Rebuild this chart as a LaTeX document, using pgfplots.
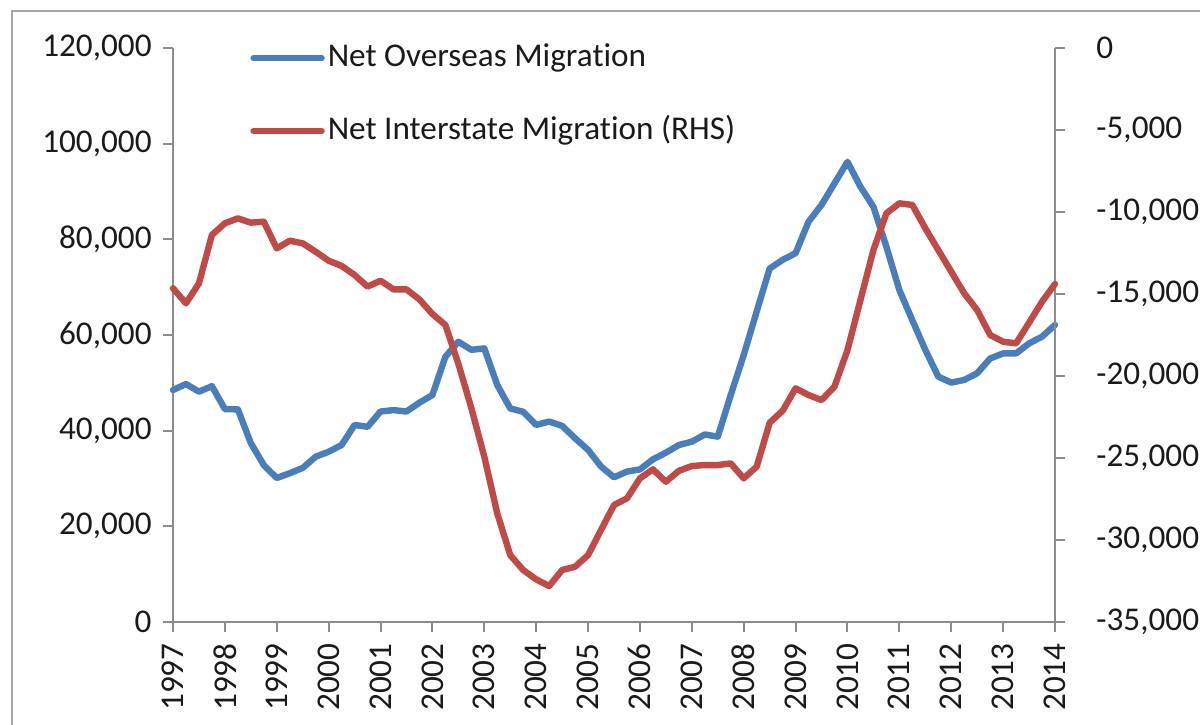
\documentclass[border=0pt]{standalone}
\usepackage{pgfplots}
\pgfplotsset{compat=1.18}
\usepackage{fontspec}
\setmainfont{Carlito}[Ligatures=NoCommon]
\definecolor{nomblue}{HTML}{4A7EBB}
\definecolor{nimred}{HTML}{BE4B48}
\definecolor{axgray}{HTML}{8C8C8C}
\definecolor{framegray}{HTML}{A6A6A6}
\definecolor{txt}{HTML}{1A1A1A}
\pgfplotstableread{
x y
1997.00 48500
1997.25 49750
1997.50 48150
1997.75 49300
1998.00 44500
1998.25 44450
1998.50 37400
1998.75 32800
1999.00 30100
1999.25 31100
1999.50 32200
1999.75 34550
2000.00 35600
2000.25 37000
2000.50 41200
2000.75 40800
2001.00 44000
2001.25 44300
2001.50 44000
2001.75 45850
2002.00 47450
2002.25 55450
2002.50 58600
2002.75 56900
2003.00 57200
2003.25 49550
2003.50 44650
2003.75 43950
2004.00 41200
2004.25 41900
2004.50 41000
2004.75 38400
2005.00 36000
2005.25 32500
2005.50 30250
2005.75 31450
2006.00 31900
2006.25 34000
2006.50 35400
2006.75 37000
2007.00 37700
2007.25 39200
2007.50 38750
2007.75 47450
2008.00 55800
2008.25 64900
2008.50 73900
2008.75 75700
2009.00 77100
2009.25 83700
2009.50 87200
2009.75 91700
2010.00 96200
2010.25 91000
2010.50 86800
2010.75 78450
2011.00 69400
2011.25 63100
2011.50 56900
2011.75 51300
2012.00 50050
2012.25 50600
2012.50 52000
2012.75 55100
2013.00 56150
2013.25 56150
2013.50 58250
2013.75 59650
2014.00 62100
}\nomtable
\pgfplotstableread{
x y
1997.00 -14650
1997.25 -15570
1997.50 -14350
1997.75 -11400
1998.00 -10690
1998.25 -10390
1998.50 -10650
1998.75 -10590
1999.00 -12220
1999.25 -11750
1999.50 -11910
1999.75 -12420
2000.00 -12970
2000.25 -13290
2000.50 -13840
2000.75 -14550
2001.00 -14190
2001.25 -14720
2001.50 -14720
2001.75 -15330
2002.00 -16220
2002.25 -16890
2002.50 -19250
2002.75 -21950
2003.00 -24920
2003.25 -28380
2003.50 -30920
2003.75 -31830
2004.00 -32400
2004.25 -32810
2004.50 -31830
2004.75 -31630
2005.00 -30920
2005.25 -29390
2005.50 -27870
2005.75 -27460
2006.00 -26240
2006.25 -25690
2006.50 -26450
2006.75 -25780
2007.00 -25490
2007.25 -25430
2007.50 -25430
2007.75 -25330
2008.00 -26240
2008.25 -25530
2008.50 -22850
2008.75 -22120
2009.00 -20750
2009.25 -21160
2009.50 -21470
2009.75 -20650
2010.00 -18420
2010.25 -15370
2010.50 -12320
2010.75 -10080
2011.00 -9470
2011.25 -9570
2011.50 -10990
2011.75 -12320
2012.00 -13640
2012.25 -14960
2012.50 -15980
2012.75 -17500
2013.00 -17910
2013.25 -18010
2013.50 -16750
2013.75 -15470
2014.00 -14390
}\nimtable
\begin{document}
\fontsize{16.6}{19.9}\selectfont
\begin{tikzpicture}
\pgfplotsset{
 base/.style={
  scale only axis, width=441pt, height=287pt,
  xmin=1997, xmax=2014,
  at={(0,0)}, anchor=south west,
  tick align=outside, major tick length=5pt,
  axis line style={axgray, line width=1pt},
  tick style={axgray, line width=1pt},
  ticklabel style={font=\fontsize{16.6}{19.9}\selectfont, text=txt},
  /pgf/number format/fixed,
  /pgf/number format/precision=0,
  /pgf/number format/assume math mode=true,
  /pgf/number format/1000 sep={,},
  scaled ticks=false,
  clip=false,
 }
}
\useasboundingbox (-86.5pt,-51pt) rectangle (513.5pt,311pt);
\draw[framegray, line width=1pt] (-80.5pt,-52pt) -- (-80.5pt,305.5pt) -- (514pt,305.5pt);
\begin{axis}[base,
  axis x line*=bottom, axis y line*=left,
  ymin=0, ymax=120000, ytick={0,20000,...,120000},
  xtick={1997,...,2014},
  xticklabel style={rotate=90, anchor=east, /pgf/number format/1000 sep={}},
]
\addplot[nomblue, line width=3.2pt, line join=round, line cap=round] table[x=x,y=y] {\nomtable};
\end{axis}
\begin{axis}[base,
  axis y line*=right, axis x line=none,
  ymin=-35000, ymax=0, ytick={-35000,-30000,...,0},
  yticklabel style={anchor=west, xshift=10pt},
  legend style={draw=none, fill=none, at={(0,1)}, anchor=north west, xshift=38.5pt, yshift=3.4pt,
    inner sep=0pt, row sep=20pt, font=\fontsize{16.6}{19.9}\selectfont, text=txt,
    nodes={inner xsep=1.5pt, inner ysep=0pt, text height=12.5pt, text depth=4pt}},
  legend cell align=left,
  legend image code/.code={\draw[#1] (0pt,0pt) -- (34pt,0pt);},
]
\addlegendimage{nomblue, line width=3.2pt, line cap=round}
\addlegendentry{Net Overseas Migration}
\addplot[nimred, line width=3.2pt, line join=round, line cap=round] table[x=x,y=y] {\nimtable};
\addlegendentry{Net Interstate Migration (RHS)}
\end{axis}
\end{tikzpicture}
\end{document}
